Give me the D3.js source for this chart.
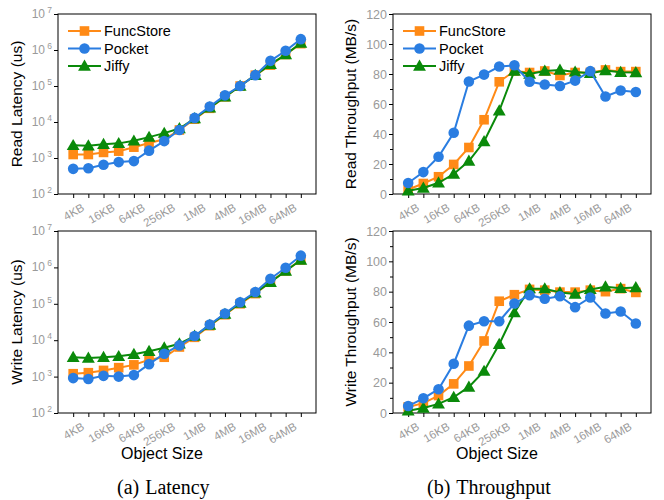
<!DOCTYPE html>
<html><head><meta charset="utf-8">
<script src="https://cdn.jsdelivr.net/npm/d3@7"></script>
<style>body{margin:0;background:#fff}svg{display:block}</style>
</head><body>
<svg id="c" width="664" height="500"></svg>
<script>
const sizes = ["4KB","8KB","16KB","32KB","64KB","128KB","256KB","512KB","1MB","2MB","4MB","8MB","16MB","32MB","64MB","128MB"];
const tickLabels = ["4KB","16KB","64KB","256KB","1MB","4MB","16MB","64MB"];
const seriesNames = ["FuncStore","Pocket","Jiffy"];

const readLatFunc   = [1250,1250,1430,1550,2000,2600,3300,6000,12000,24000,50000,100000,200000,380000,750000,1500000];
const readLatPocket = [500,520,650,770,820,1600,2950,6000,13000,27000,55000,100000,200000,500000,950000,2000000];
const readLatJiffy  = [2250,2200,2400,2550,3000,3800,4900,6600,12500,25000,50000,100000,200000,400000,750000,1550000];

const writeLatFunc   = [1200,1280,1480,1760,2100,2900,3400,6500,12000,25000,50000,100000,190000,400000,800000,1600000];
const writeLatPocket = [910,860,1050,1000,1100,2200,4250,7200,13000,27000,54000,110000,210000,490000,980000,2100000];
const writeLatJiffy  = [3400,3250,3400,3600,4100,5000,6200,8000,13000,26000,52000,105000,200000,390000,800000,1600000];

const readThrFunc   = [3,7,11.5,19.7,31,49.5,74.8,82,81,82,79,81,81,82.7,81.6,81.6];
const readThrPocket = [7.3,14.6,24.8,40.8,75,79.6,85,85.8,74.8,73,72,75.6,81.9,65,69,68];
const readThrJiffy  = [2.2,4,7.5,13.3,22,35,55.5,82,80,82,82.7,81.4,80.5,82.3,81.2,81];

const writeThrFunc   = [4,6.5,11.5,19.2,31,47.5,73.7,78,81.5,81,79.7,79.7,81,80,82,79.5];
const writeThrPocket = [4.6,9.7,15.7,32.5,57.6,60.5,60.5,72.2,77.7,75.3,77,69.8,76.2,65.6,66.9,59];
const writeThrJiffy  = [1.5,3.3,6,10.4,17.2,27.6,45.3,66.2,82,82,79.5,78.4,81.5,83.2,82.3,82.8];

const colors = {FuncStore:"#ff8a16", Pocket:"#2a7de1", Jiffy:"#0a8a0a"};
const drawOrder = ["FuncStore","Jiffy","Pocket"];
const svg = d3.select("#c");
const grey = "#9a9a9a";
const sansFont = "'Liberation Sans', Arial, sans-serif";

function marker(g, name, x, y) {
  const c = colors[name];
  if (name === "FuncStore") g.append("rect").attr("x", x-4.8).attr("y", y-4.8).attr("width", 9.6).attr("height", 9.6).attr("fill", c);
  else if (name === "Pocket") g.append("circle").attr("cx", x).attr("cy", y).attr("r", 5.3).attr("fill", c);
  else g.append("path").attr("d", d3.symbol(d3.symbolTriangle, 72)()).attr("transform", `translate(${x},${y+1})`).attr("fill", c);
}

function panel(opt) {
  const g = svg.append("g");
  const x = d3.scaleLinear().domain([-1, sizes.length]).range([opt.x0, opt.x1]);
  let y;
  if (opt.log) y = d3.scaleLog().domain([1e2, 1e7]).range([opt.y1, opt.y0]);
  else y = d3.scaleLinear().domain([0, 120]).range([opt.y1, opt.y0]);

  const xAxis = d3.axisBottom(x).tickValues(d3.range(sizes.length)).tickSize(4).tickFormat("");
  const xa = g.append("g").attr("transform", `translate(0,${opt.y1})`).call(xAxis);
  xa.select(".domain").remove();
  xa.selectAll("line").attr("stroke", "#000");
  tickLabels.forEach(t => {
    const i = sizes.indexOf(t);
    g.append("text").attr("transform", `translate(${x(i)+8},${opt.y1+9}) rotate(-30)`)
      .attr("text-anchor", "end").attr("dominant-baseline", "hanging")
      .attr("font-family", sansFont).attr("font-size", 11.5).attr("fill", grey).text(t);
  });

  if (opt.log) {
    const ya = g.append("g").attr("transform", `translate(${opt.x0},0)`)
      .call(d3.axisLeft(y).tickValues([1e2,1e3,1e4,1e5,1e6,1e7]).tickSize(4).tickFormat(""));
    ya.select(".domain").remove();
    ya.selectAll("line").attr("stroke", "#000");
    [2,3,4,5,6,7].forEach(p => {
      g.append("text").attr("x", opt.x0 - 13).attr("y", y(Math.pow(10,p)) + 4)
        .attr("text-anchor", "end").attr("font-family", sansFont).attr("font-size", 12).attr("fill", grey).text("10");
      g.append("text").attr("x", opt.x0 - 6).attr("y", y(Math.pow(10,p)) - 1)
        .attr("text-anchor", "end").attr("font-family", sansFont).attr("font-size", 8.5).attr("fill", grey).text(p);
    });
  } else {
    const ya = g.append("g").attr("transform", `translate(${opt.x0},0)`)
      .call(d3.axisLeft(y).tickValues(d3.range(0,121,20)).tickSize(4).tickFormat(""));
    ya.select(".domain").remove();
    ya.selectAll("line").attr("stroke", "#000");
    const ym = g.append("g").attr("transform", `translate(${opt.x0},0)`)
      .call(d3.axisLeft(y).tickValues(d3.range(10,120,20)).tickSize(3).tickFormat(""));
    ym.select(".domain").remove();
    ym.selectAll("line").attr("stroke", "#000");
    d3.range(0,121,20).forEach(v => {
      g.append("text").attr("x", opt.x0 - 6).attr("y", y(v) + 4.5)
        .attr("text-anchor", "end").attr("font-family", sansFont).attr("font-size", 12.5).attr("fill", grey).text(v);
    });
  }

  g.append("rect").attr("x", opt.x0).attr("y", opt.y0).attr("width", opt.x1 - opt.x0).attr("height", opt.y1 - opt.y0)
    .attr("fill", "none").attr("stroke", "#000").attr("stroke-width", 1);

  g.append("text").attr("transform", `translate(${opt.ylx},${(opt.y0+opt.y1)/2}) rotate(-90)`)
    .attr("text-anchor", "middle").attr("font-family", sansFont).attr("font-size", 15.5).attr("fill", "#000").text(opt.ylabel);

  if (opt.xlabel) {
    g.append("text").attr("x", (opt.x0+opt.x1)/2 - 25).attr("y", opt.y1 + 46)
      .attr("text-anchor", "middle").attr("font-family", sansFont).attr("font-size", 16).attr("fill", "#000").text(opt.xlabel);
  }

  const line = d3.line().x((d,i) => x(i)).y(d => y(d));
  drawOrder.forEach(name => {
    const vals = opt.data[name];
    g.append("path").datum(vals).attr("d", line).attr("fill", "none")
      .attr("stroke", colors[name]).attr("stroke-width", 2);
    vals.forEach((v,i) => marker(g, name, x(i), y(v)));
  });

  if (opt.legend) {
    seriesNames.forEach((name, k) => {
      const ly = opt.y0 + 17 + k*17.5;
      const lx = opt.x0 + 10;
      g.append("line").attr("x1", lx).attr("x2", lx + 33).attr("y1", ly).attr("y2", ly)
        .attr("stroke", colors[name]).attr("stroke-width", 2);
      marker(g, name, lx + 16.5, ly);
      g.append("text").attr("x", lx + 36).attr("y", ly + 5)
        .attr("font-family", sansFont).attr("font-size", 14.5).attr("fill", "#000").text(name);
    });
  }
}

panel({x0:58, x1:316, y0:14, y1:194, log:true, ylx:22, ylabel:"Read Latency (us)", legend:true,
  data:{FuncStore:readLatFunc, Pocket:readLatPocket, Jiffy:readLatJiffy}});
panel({x0:393, x1:651, y0:14, y1:194, log:false, ylx:356, ylabel:"Read Throughput (MB/s)", legend:true,
  data:{FuncStore:readThrFunc, Pocket:readThrPocket, Jiffy:readThrJiffy}});
panel({x0:58, x1:316, y0:231, y1:413, log:true, ylx:22, ylabel:"Write Latency (us)", xlabel:"Object Size",
  data:{FuncStore:writeLatFunc, Pocket:writeLatPocket, Jiffy:writeLatJiffy}});
panel({x0:393, x1:651, y0:231, y1:413, log:false, ylx:356, ylabel:"Write Throughput (MB/s)", xlabel:"Object Size",
  data:{FuncStore:writeThrFunc, Pocket:writeThrPocket, Jiffy:writeThrJiffy}});

const serif = "'Liberation Serif', 'Times New Roman', serif";
svg.append("text").attr("x", 117).attr("y", 494).attr("font-family", serif).attr("font-size", 20).text("(a)")
  .append("tspan").attr("dx", 6).text("Latency");
svg.append("text").attr("x", 427).attr("y", 494).attr("font-family", serif).attr("font-size", 20).text("(b)")
  .append("tspan").attr("dx", 6).text("Throughput");
</script>
</body></html>
